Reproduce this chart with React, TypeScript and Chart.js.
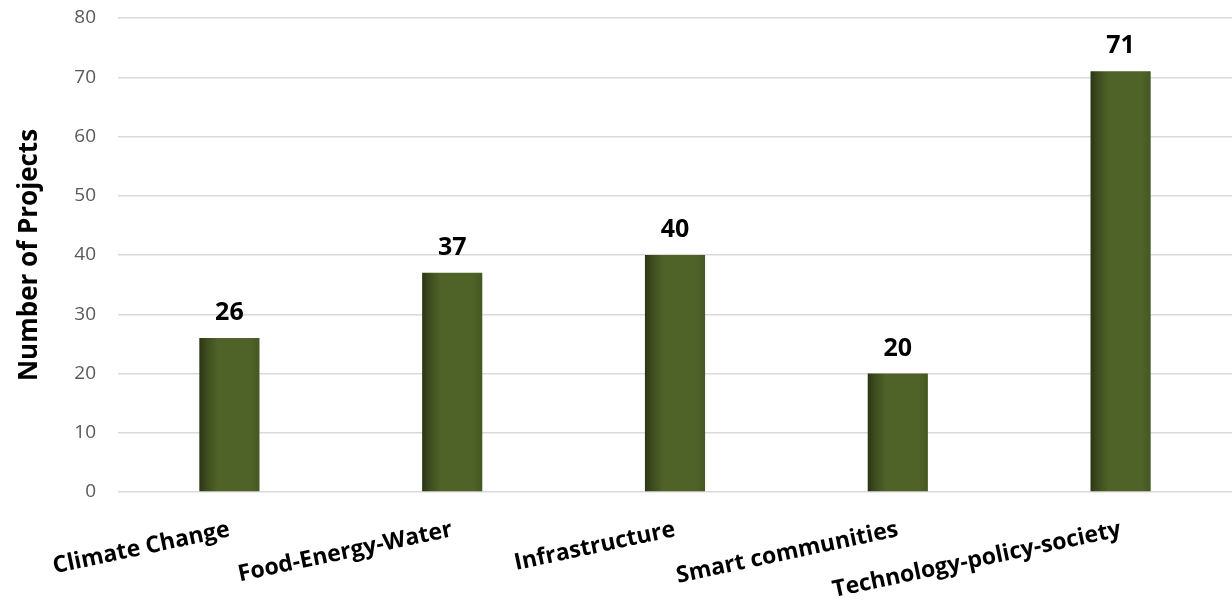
import React, { useEffect, useRef } from "react";
import { Chart, registerables } from "chart.js";

Chart.register(...registerables);

const categories = ["Climate Change", "Food-Energy-Water", "Infrastructure", "Smart communities", "Technology-policy-society"];
const projectCounts = [26, 37, 40, 20, 71];
const yTickValues = [0, 10, 20, 30, 40, 50, 60, 70, 80];

const BAR_PCT = 0.27;

const valueLabelPlugin = {
  id: "valueLabels",
  afterDatasetsDraw(chart: any) {
    const ctx = chart.ctx;
    const meta = chart.getDatasetMeta(0);
    ctx.save();
    ctx.font = "bold 25px 'Open Sans', sans-serif";
    ctx.fillStyle = "#000000";
    ctx.textAlign = "center";
    ctx.textBaseline = "alphabetic";
    meta.data.forEach((el: any, i: number) => {
      ctx.fillText(String(projectCounts[i]), el.x, el.y - 18);
    });
    ctx.restore();
  },
};

function barFill(c: any) {
  const chart = c.chart;
  const area = chart.chartArea;
  const xs = chart.scales && chart.scales.x;
  if (!area || !xs || c.dataIndex === undefined) return "#4f6228";
  const center = xs.getPixelForValue(c.dataIndex);
  const w = ((area.right - area.left) / categories.length) * BAR_PCT;
  const g = chart.ctx.createLinearGradient(center - w / 2, 0, center + w / 2, 0);
  g.addColorStop(0, "#2a3614");
  g.addColorStop(0.12, "#3d4c1f");
  g.addColorStop(0.3, "#4f6228");
  g.addColorStop(0.85, "#4f6228");
  g.addColorStop(1, "#465822");
  return g;
}

export default function App() {
  const ref = useRef<HTMLCanvasElement>(null);
  useEffect(() => {
    if (!ref.current) return;
    const chart = new Chart(ref.current, {
      type: "bar",
      data: {
        labels: categories,
        datasets: [
          {
            data: projectCounts,
            backgroundColor: barFill as any,
            borderWidth: 0,
            barPercentage: BAR_PCT,
            categoryPercentage: 1,
          },
        ],
      },
      plugins: [valueLabelPlugin],
      options: {
        animation: false,
        responsive: false,
        maintainAspectRatio: false,
        layout: { padding: 0 },
        plugins: { legend: { display: false }, tooltip: { enabled: false } },
        scales: {
          x: {
            grid: { display: false },
            border: { display: false },
            afterFit: (axis: any) => {
              axis.height = 109;
              axis.paddingLeft = 0;
              axis.paddingRight = 0;
            },
            ticks: {
              autoSkip: false,
              minRotation: 12,
              maxRotation: 12,
              color: "#000000",
              font: { family: "'Open Sans', sans-serif", size: 23, weight: "bold" },
              padding: 16,
            },
          },
          y: {
            min: 0,
            max: 80,
            afterBuildTicks: (axis: any) => {
              axis.ticks = yTickValues.map((v) => ({ value: v }));
            },
            afterFit: (axis: any) => {
              axis.width = 118;
              axis.paddingTop = 18;
              axis.paddingBottom = 0;
            },
            grid: { color: "#d9d9d9", lineWidth: 1.5, drawTicks: false },
            border: { display: false },
            ticks: {
              color: "#595959",
              font: { family: "'Open Sans', sans-serif", size: 19 },
              padding: 22,
            },
            title: {
              display: true,
              text: "Number of Projects",
              color: "#000000",
              font: { family: "'Open Sans', sans-serif", size: 26, weight: "bold" },
              padding: { top: 14, bottom: 0 },
            },
          },
        },
      },
    });
    return () => chart.destroy();
  }, []);
  return (
    <div style={{ position: "absolute", left: 0, top: 0, width: 1232, height: 601, background: "#fff" }}>
      <canvas ref={ref} width={1232} height={601} style={{ width: 1232, height: 601 }} />
    </div>
  );
}
